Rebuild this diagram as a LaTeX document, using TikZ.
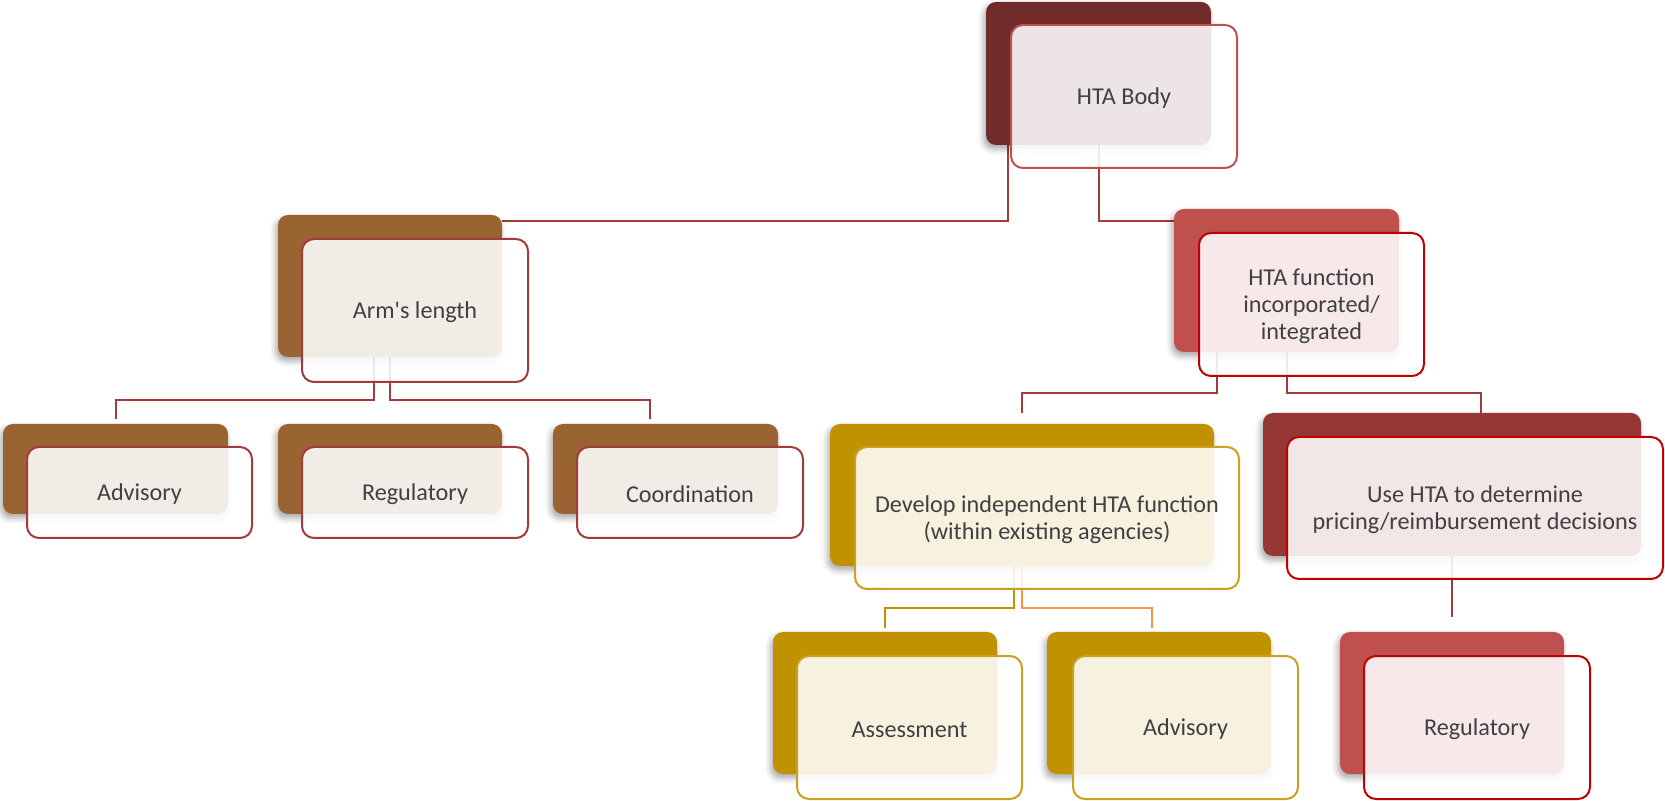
\documentclass[tikz,border=0pt]{standalone}
\usepackage{fontspec}
\setmainfont{Carlito}[Ligatures=TeXOff]
\usetikzlibrary{fit,calc,shadows.blur}
\pgfdeclarelayer{bg}
\pgfsetlayers{bg,main}

% palette
\definecolor{txtc}{HTML}{404040}
\definecolor{maroon}{HTML}{722B2B}
\definecolor{brownc}{HTML}{9A6432}
\definecolor{redc}{HTML}{C0504D}
\definecolor{deepred}{HTML}{C00000}
\definecolor{wine}{HTML}{953735}
\definecolor{goldc}{HTML}{C09100}
\definecolor{goldline}{HTML}{CCA020}
\definecolor{connred}{HTML}{A33B3B}
\definecolor{armline}{HTML}{A23B3B}
\definecolor{orangec}{HTML}{F79646}

\tikzset{
  backbox/.style={rounded corners=5pt, inner sep=0pt, outer sep=0pt, fill=#1,
    blur shadow={shadow xshift=-1pt, shadow yshift=-2pt,
                 shadow blur radius=3pt, shadow opacity=35}},
  frontbox/.style={rounded corners=6pt, inner sep=0pt, outer sep=0pt,
    draw=#1, line width=1pt, fill=white, fill opacity=0.88},
  lbl/.style={inner sep=0pt, align=center, text=txtc, yshift=-1pt,
    font=\fontsize{12.1}{13.5}\selectfont},
  conn/.style={line width=1pt, draw=#1},
}

\begin{document}
\begin{tikzpicture}[x=0.5pt,y=-0.5pt]
\useasboundingbox (0,0) rectangle (1665,801);

% --- top level
\node[backbox=maroon, fit={(986,2)(1211,145)}] (bodyB) {};
\node[frontbox=redc, fit={(1011,25)(1237,168)}] (bodyF) {};
\node[lbl] (bodyL) at (bodyF.center) {HTA Body};

% --- left branch
\node[backbox=brownc, fit={(278,215)(502,357)}] (armB) {};
\node[frontbox=armline, fit={(302,239)(528,382)}] (armF) {};
\node[lbl] (armL) at (armF.center) {Arm's length};

\node[backbox=brownc, fit={(3,424)(228,514)}] (adv1B) {};
\node[frontbox=armline, fit={(27,447)(252,538)}] (adv1F) {};
\node[lbl] (adv1L) at (adv1F.center) {Advisory};

\node[backbox=brownc, fit={(278,424)(502,514)}] (reg1B) {};
\node[frontbox=armline, fit={(302,447)(528,538)}] (reg1F) {};
\node[lbl] (reg1L) at (reg1F.center) {Regulatory};

\node[backbox=brownc, fit={(553,424)(778,514)}] (coordB) {};
\node[frontbox=armline, fit={(577,447)(803,538)}] (coordF) {};
\node[lbl] (coordL) at (coordF.center) {Coordination};

% --- right branch
\node[backbox=redc, fit={(1174,209)(1399,352)}] (funcB) {};
\node[frontbox=deepred, fit={(1199,233)(1424,376)}] (funcF) {};
\node[lbl] (funcL) at (funcF.center) {HTA function\\incorporated/\\integrated};

\node[backbox=goldc, fit={(830,424)(1214,566)}] (devB) {};
\node[frontbox=goldline, fit={(855,447)(1239,589)}] (devF) {};
\node[lbl] (devL) at (devF.center) {Develop independent HTA function\\(within existing agencies)};

\node[backbox=wine, fit={(1263,413)(1641,556)}] (useB) {};
\node[frontbox=deepred, fit={(1287,437)(1663,579)}] (useF) {};
\node[lbl] (useL) at (useF.center) {Use HTA to determine\\pricing/reimbursement decisions};

\node[backbox=goldc, fit={(773,632)(997,774)}] (assB) {};
\node[frontbox=goldline, fit={(797,656)(1022,799)}] (assF) {};
\node[lbl] (assL) at (assF.center) {Assessment};

\node[backbox=goldc, fit={(1047,632)(1271,774)}] (adv2B) {};
\node[frontbox=goldline, fit={(1073,656)(1298,799)}] (adv2F) {};
\node[lbl] (adv2L) at (adv2F.center) {Advisory};

\node[backbox=redc, fit={(1340,632)(1564,774)}] (reg2B) {};
\node[frontbox=deepred, fit={(1364,656)(1590,799)}] (reg2F) {};
\node[lbl] (reg2L) at (reg2F.center) {Regulatory};

% --- connectors, kept underneath the boxes
\begin{pgfonlayer}{bg}
  \draw[conn=connred] ($(bodyB.south west)+(22,0)$) |- ($(armB.north east)+(0,6.5)$);
  \draw[conn=connred] (bodyB.south) |- ($(funcB.north west)+(0,12)$);

  \draw[conn=armline] ($(armB.south)+(-16,0)$) -- ++(0,43) -| ($(adv1B.north)+(0,-5)$);
  \draw[conn=armline] (armB.south) -- ++(0,43) -| ($(coordB.north)+(-16,-5)$);

  \draw[conn=connred] ($(funcB.south west)+(43,0)$) -- ++(0,41) -| ($(devB.north)+(0,-11)$);
  \draw[conn=connred] (funcB.south) -- ++(0,41) -| ($(useB.north)+(29,0)$);

  \draw[conn=goldc] ($(devB.south)+(-8,0)$) -- ++(0,42) -| ($(assB.north)+(0,-4)$);
  \draw[conn=orangec] (devB.south) -- ++(0,42) -| ($(adv2B.north)+(-7,-4)$);

  \draw[conn=connred] (useB.south) -- ($(reg2B.north)+(0,-15)$);
\end{pgfonlayer}
\end{tikzpicture}
\end{document}
